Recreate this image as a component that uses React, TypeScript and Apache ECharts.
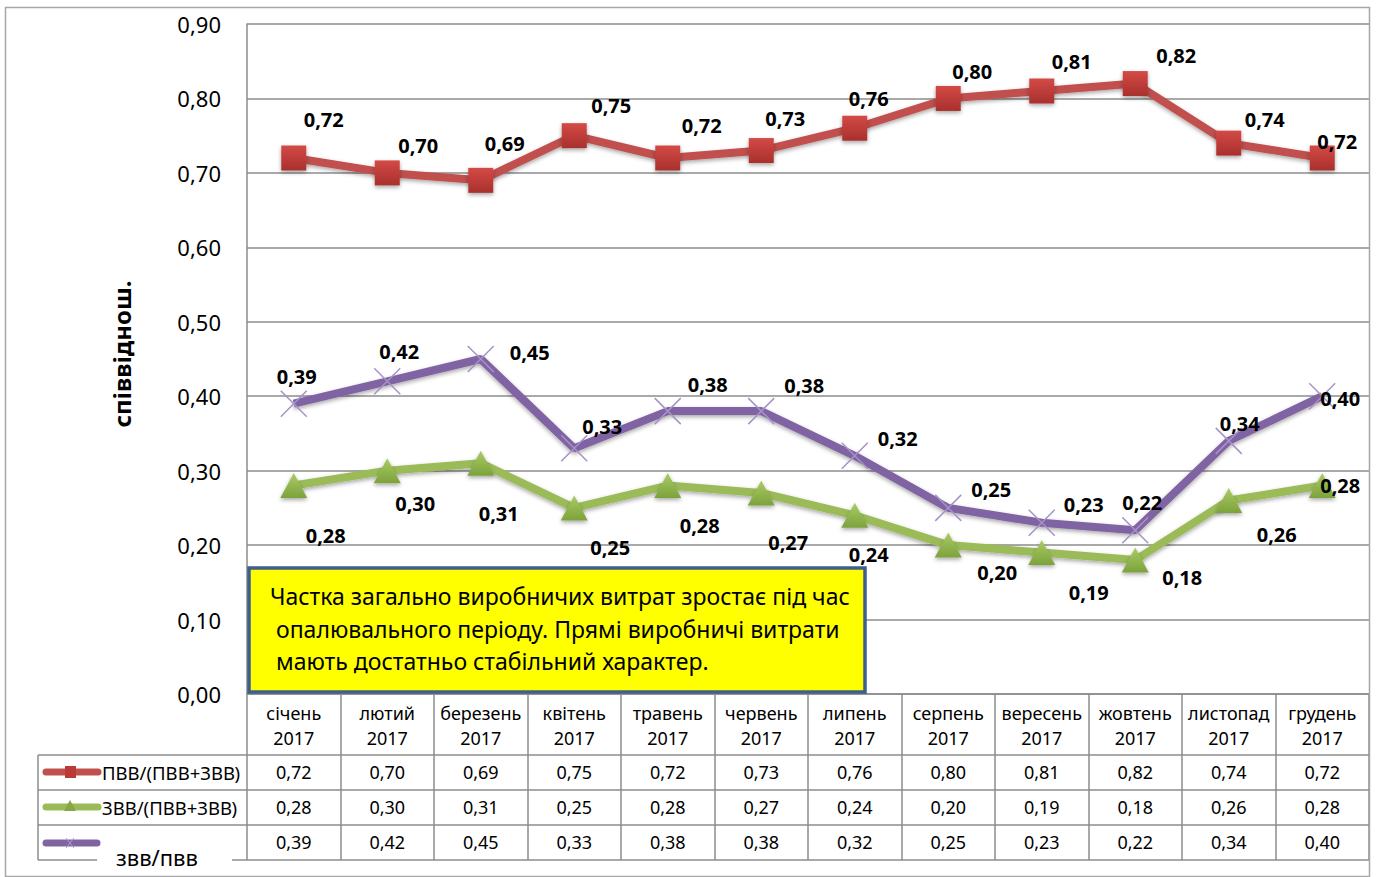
import React, { useEffect, useRef } from "react";
import * as echarts from "echarts";

// ---------- DATA ----------
const categories = [
  "січень 2017", "лютий 2017", "березень 2017", "квітень 2017", "травень 2017", "червень 2017",
  "липень 2017", "серпень 2017", "вересень 2017", "жовтень 2017", "листопад 2017", "грудень 2017",
];
const seriesNames = ["ПВВ/(ПВВ+ЗВВ)", "ЗВВ/(ПВВ+ЗВВ)", "звв/пвв"];
const pvvShare = [0.72, 0.70, 0.69, 0.75, 0.72, 0.73, 0.76, 0.80, 0.81, 0.82, 0.74, 0.72];
const zvvShare = [0.28, 0.30, 0.31, 0.25, 0.28, 0.27, 0.24, 0.20, 0.19, 0.18, 0.26, 0.28];
const zvvToPvv = [0.39, 0.42, 0.45, 0.33, 0.38, 0.38, 0.32, 0.25, 0.23, 0.22, 0.34, 0.40];
const yTicks = { min: 0, max: 0.9, interval: 0.1 };
const axisTitle = "співвіднош.";
const noteLines = [
  "Частка загально виробничих витрат зростає під час",
  "опалювального періоду. Прямі виробничі витрати",
  "мають достатньо стабільний характер.",
];

// ---------- LAYOUT (label nudges, px relative to point) ----------
const nudgeRed = [[30, -39], [31, -27], [24, -37], [37, -30], [34, -33], [24, -32], [14, -30], [24, -27], [30, -30], [41, -28], [36, -24], [15, -17]];
const nudgeGreen = [[32, 50], [28, 33], [18, 50], [36, 40], [32, 40], [27, 49], [14, 39], [49, 27], [47, 40], [47, 17], [48, 34], [18, 0]];
const nudgePurple = [[3, -27], [12, -30], [49, -7], [28, -22], [40, -27], [43, -26], [43, -17], [43, -18], [42, -18], [7, -28], [11, -17], [18, 2]];

const FONT = "Noto Sans";
const GRID = { left: 247, right: 12, top: 24, bottom: 183 };
const GRAY = "#8C8C8C";
const fmt = (v: number) => v.toFixed(2).replace(".", ",");

const RED = "#C0504D";
const GREEN = "#9BBB59";
const PURPLE = "#8064A2";

export default function App() {
  const ref = useRef<HTMLDivElement>(null);
  useEffect(() => {
    if (!ref.current) return;
    const chart = echarts.init(ref.current, undefined, { renderer: "svg" });

    const redGrad = new echarts.graphic.LinearGradient(0, 0, 0, 1, [
      { offset: 0, color: "#D44A46" },
      { offset: 1, color: "#A8302D" },
    ]);
    const greenGrad = new echarts.graphic.LinearGradient(0, 0, 0, 1, [
      { offset: 0, color: "#A9CC63" },
      { offset: 1, color: "#7DA23C" },
    ]);

    const mkData = (vals: number[], nudges: number[][]) =>
      vals.map((v, i) => ({ value: v, label: { offset: nudges[i] } }));

    const labelBase = {
      show: true,
      position: "inside",
      formatter: (p: any) => fmt(p.value),
      fontFamily: FONT,
      fontWeight: "bold",
      fontSize: 20,
      color: "#000",
    };
    const shadow = { shadowBlur: 4, shadowColor: "rgba(0,0,0,0.35)", shadowOffsetY: 2 };

    const tableRows = [pvvShare, zvvShare, zvvToPvv];
    const rowCenters = [772, 807, 842];
    const axisY = 877 - GRID.bottom;

    const extraAxes = tableRows.map((row, r) => ({
      type: "category",
      gridIndex: 0,
      position: "bottom",
      offset: rowCenters[r] - axisY,
      data: row.map(fmt),
      axisLine: { show: false },
      axisTick: { show: false },
      axisLabel: {
        interval: 0,
        margin: 0,
        verticalAlign: "middle",
        fontFamily: FONT,
        fontSize: 18,
        color: "#000",
      },
    }));

    const R = 1369;
    const hLine = (x1: number, x2: number, y: number) => ({
      type: "line",
      shape: { x1, y1: y, x2, y2: y },
      style: { stroke: GRAY, lineWidth: 1.5 },
      z: 50,
    });

    const graphics: any[] = [
      {
        type: "rect",
        shape: { x: 5.5, y: 7.5, width: R - 5, height: 869 },
        style: { fill: "none", stroke: "#A6A6A6", lineWidth: 1.5 },
        z: 40,
      },
      hLine(38, R, 755),
      hLine(38, R, 790),
      hLine(38, R, 825),
      hLine(38, 97, 860),
      hLine(232, R, 860),
      {
        type: "line",
        shape: { x1: 38, y1: 755, x2: 38, y2: 860 },
        style: { stroke: GRAY, lineWidth: 1.5 },
        z: 50,
      },
      // legend glyphs
      {
        type: "line",
        shape: { x1: 46, y1: 772, x2: 98, y2: 772 },
        style: { stroke: RED, lineWidth: 7, lineCap: "round" },
        z: 50,
      },
      { type: "rect", shape: { x: 65, y: 766, width: 11, height: 12 }, style: { fill: "#B93A37" }, z: 51 },
      {
        type: "line",
        shape: { x1: 46, y1: 807, x2: 98, y2: 807 },
        style: { stroke: GREEN, lineWidth: 7, lineCap: "round" },
        z: 50,
      },
      {
        type: "polygon",
        shape: { points: [[70, 800], [76, 811], [64, 811]] },
        style: { fill: "#84A944" },
        z: 51,
      },
      {
        type: "line",
        shape: { x1: 46, y1: 843, x2: 97, y2: 843 },
        style: { stroke: PURPLE, lineWidth: 7, lineCap: "round" },
        z: 50,
      },
      {
        type: "line",
        shape: { x1: 66, y1: 838, x2: 74, y2: 848 },
        style: { stroke: "#A99BCA", lineWidth: 1 },
        z: 51,
      },
      {
        type: "line",
        shape: { x1: 74, y1: 838, x2: 66, y2: 848 },
        style: { stroke: "#A99BCA", lineWidth: 1 },
        z: 51,
      },
      {
        type: "text",
        x: 102,
        y: 772,
        style: { text: seriesNames[0], fontFamily: FONT, fontSize: 18.5, fill: "#000", verticalAlign: "middle" },
        z: 52,
      },
      {
        type: "text",
        x: 102,
        y: 807,
        style: { text: seriesNames[1], fontFamily: FONT, fontSize: 18.5, fill: "#000", verticalAlign: "middle" },
        z: 52,
      },
      {
        type: "text",
        x: 116,
        y: 857,
        style: { text: seriesNames[2], fontFamily: FONT, fontSize: 22, fill: "#000", verticalAlign: "middle" },
        z: 52,
      },
      // note box
      {
        type: "rect",
        shape: { x: 249, y: 568, width: 616, height: 124 },
        style: { fill: "#FFFF00", stroke: "#3C5F8E", lineWidth: 3.5 },
        z: 60,
      },
      ...noteLines.map((t, i) => ({
        type: "text",
        x: i === 0 ? 270 : 276,
        y: 596 + i * 32.5,
        style: { text: t, fontFamily: FONT, fontSize: 23, fill: "#000", verticalAlign: "middle" },
        z: 61,
      })),
    ];

    chart.setOption({
      animation: false,
      backgroundColor: "#fff",
      grid: { ...GRID },
      xAxis: [
        {
          type: "category",
          data: categories,
          boundaryGap: true,
          axisLine: { show: true, lineStyle: { color: GRAY, width: 1.5 } },
          axisTick: { show: true, length: 166, interval: 0, lineStyle: { color: GRAY, width: 1.5 } },
          axisLabel: {
            interval: 0,
            margin: 6,
            formatter: (s: string) => s.replace(" ", "\n"),
            fontFamily: FONT,
            fontSize: 18,
            lineHeight: 25,
            color: "#000",
          },
          splitLine: { show: false },
        },
        ...extraAxes,
      ],
      yAxis: {
        type: "value",
        min: yTicks.min,
        max: yTicks.max,
        interval: yTicks.interval,
        name: axisTitle,
        nameLocation: "middle",
        nameRotate: 90,
        nameGap: 114,
        nameTextStyle: { fontFamily: FONT, fontWeight: "bold", fontSize: 24, color: "#000", padding: [0, 0, 0, 10] },
        axisLine: { show: true, lineStyle: { color: GRAY, width: 1.5 } },
        axisTick: { show: false },
        axisLabel: { margin: 26, formatter: (v: number) => fmt(v), fontFamily: FONT, fontSize: 22, color: "#000" },
        splitLine: { show: true, lineStyle: { color: GRAY, width: 1.5 } },
      },
      series: [
        {
          name: seriesNames[0],
          type: "line",
          data: mkData(pvvShare, nudgeRed),
          symbol: "rect",
          symbolSize: 25,
          lineStyle: { color: RED, width: 8, ...shadow },
          itemStyle: { color: redGrad, ...shadow },
          label: labelBase,
          z: 3,
        },
        {
          name: seriesNames[1],
          type: "line",
          data: mkData(zvvShare, nudgeGreen),
          symbol: "triangle",
          symbolSize: [27, 25],
          lineStyle: { color: GREEN, width: 8, ...shadow },
          itemStyle: { color: greenGrad, ...shadow },
          label: labelBase,
          z: 3,
        },
        {
          name: seriesNames[2],
          type: "line",
          data: mkData(zvvToPvv, nudgePurple),
          symbol: "path://M0,0L10,10M10,0L0,10",
          symbolSize: 26,
          lineStyle: { color: PURPLE, width: 8, ...shadow },
          itemStyle: { color: "rgba(0,0,0,0)", borderColor: "#A493C8", borderWidth: 1.5 },
          label: labelBase,
          z: 3,
        },
      ],
      graphic: graphics,
    });

    return () => chart.dispose();
  }, []);

  return (
    <div
      ref={ref}
      style={{ position: "fixed", left: 0, top: 0, width: 1381, height: 877, background: "#fff" }}
    />
  );
}
